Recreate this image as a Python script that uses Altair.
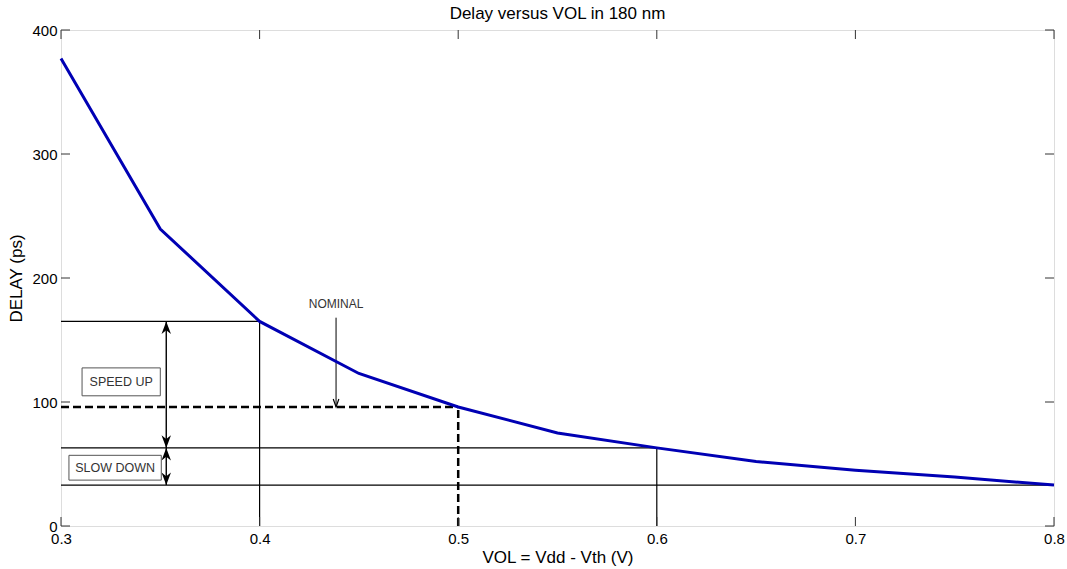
import altair as alt
import pandas as pd

# Curve data
vol = [0.30, 0.35, 0.40, 0.45, 0.50, 0.55, 0.60, 0.65, 0.70, 0.75, 0.80]
delay = [377, 239.5, 165, 123, 96, 75, 63, 52, 45, 39.5, 33]

# Reference solid lines (horizontal then vertical)
h_x1 = [0.3, 0.3, 0.3]
h_x2 = [0.4, 0.6, 0.8]
h_y = [165, 63, 33]
v_x = [0.4, 0.6]
v_y = [165, 63]

# Nominal dashed
nom_x = 0.5
nom_y = 96

# Double arrows
arr_x = 0.353
arr_y1 = [165, 63]
arr_y2 = [63, 33]

# Boxes
box_labels = ["SPEED UP", "SLOW DOWN"]
box_x1 = [0.3106, 0.304]
box_x2 = [0.35, 0.3505]
box_y1 = [105, 37]
box_y2 = [127.5, 57]

# Nominal annotation
nominal_text_x = 0.4385
nominal_text_y = 173
nominal_arrow_top = 168
nominal_arrow_tip = 96

xticks = [0.3, 0.4, 0.5, 0.6, 0.7, 0.8]
yticks = [0, 100, 200, 300, 400]

W, H = 993, 496
FONT = "Liberation Sans"

xs = alt.Scale(domain=[0.3, 0.8], nice=False, zero=False)
ys = alt.Scale(domain=[0, 400], nice=False)

xaxis = alt.Axis(values=xticks, format=".1f", ticks=False, domain=False, grid=False,
                 labelFontSize=15, labelColor="black", labelPadding=5, labelFont=FONT,
                 title="VOL = Vdd - Vth (V)", titleFontSize=17, titleFontWeight="normal",
                 titleColor="black", titleFont=FONT, titlePadding=3, labelFlush=False)
yaxis = alt.Axis(values=yticks, ticks=False, domain=False, grid=False,
                 labelFontSize=15, labelColor="black", labelPadding=4, labelFont=FONT,
                 title="DELAY (ps)", titleFontSize=17, titleFontWeight="normal",
                 titleColor="black", titleFont=FONT, titlePadding=6, labelFlush=False)

curve_df = pd.DataFrame({"x": vol, "y": delay})
base_curve = alt.Chart(curve_df).mark_line(color="#0000B4", strokeWidth=3).encode(
    x=alt.X("x:Q", scale=xs, axis=xaxis),
    y=alt.Y("y:Q", scale=ys, axis=yaxis),
)

hdf = pd.DataFrame({"x1": h_x1, "x2": h_x2, "y": h_y})
hlines = alt.Chart(hdf).mark_rule(color="black", strokeWidth=1.2).encode(
    x=alt.X("x1:Q", scale=xs), x2="x2:Q", y=alt.Y("y:Q", scale=ys))

vdf = pd.DataFrame({"x": v_x, "y": v_y, "y0": [0, 0]})
vlines = alt.Chart(vdf).mark_rule(color="black", strokeWidth=1.2).encode(
    x=alt.X("x:Q", scale=xs), y=alt.Y("y0:Q", scale=ys), y2="y:Q")

ndf = pd.DataFrame({"x1": [0.3], "x2": [nom_x], "y": [nom_y], "y0": [0]})
nom_h = alt.Chart(ndf).mark_rule(color="black", strokeWidth=2.5, strokeDash=[8, 4]).encode(
    x=alt.X("x1:Q", scale=xs), x2="x2:Q", y=alt.Y("y:Q", scale=ys))
nom_v = alt.Chart(ndf).mark_rule(color="black", strokeWidth=2.5, strokeDash=[8, 4]).encode(
    x=alt.X("x2:Q", scale=xs), y=alt.Y("y0:Q", scale=ys), y2="y:Q")

adf = pd.DataFrame({"x": [arr_x, arr_x], "y1": arr_y1, "y2": arr_y2})
arr_lines = alt.Chart(adf).mark_rule(color="black", strokeWidth=1.4).encode(
    x=alt.X("x:Q", scale=xs), y=alt.Y("y1:Q", scale=ys), y2="y2:Q")

UP = "M0,0L-0.9,2.4L0,1.7L0.9,2.4Z"
DOWN = "M0,0L-0.9,-2.4L0,-1.7L0.9,-2.4Z"
up_df = pd.DataFrame({"x": [arr_x, arr_x], "y": arr_y1})
down_df = pd.DataFrame({"x": [arr_x, arr_x], "y": arr_y2})
heads_up = alt.Chart(up_df).mark_point(shape=UP, filled=True, color="black", size=110, opacity=1).encode(
    x=alt.X("x:Q", scale=xs), y=alt.Y("y:Q", scale=ys))
heads_down = alt.Chart(down_df).mark_point(shape=DOWN, filled=True, color="black", size=110, opacity=1).encode(
    x=alt.X("x:Q", scale=xs), y=alt.Y("y:Q", scale=ys))

bdf = pd.DataFrame({"label": box_labels, "x1": box_x1, "x2": box_x2, "y1": box_y1, "y2": box_y2})
bdf["xm"] = (bdf["x1"] + bdf["x2"]) / 2
bdf["ym"] = (bdf["y1"] + bdf["y2"]) / 2
boxes = alt.Chart(bdf).mark_rect(fill="white", stroke="#555555", strokeWidth=1).encode(
    x=alt.X("x1:Q", scale=xs), x2="x2:Q", y=alt.Y("y1:Q", scale=ys), y2="y2:Q")
box_text = alt.Chart(bdf).mark_text(fontSize=12.5, color="#333333", font=FONT, align="center",
                                    baseline="middle").encode(
    x=alt.X("xm:Q", scale=xs), y=alt.Y("ym:Q", scale=ys), text="label:N")

nadf = pd.DataFrame({"x": [nominal_text_x], "y": [nominal_text_y], "t": ["NOMINAL"],
                     "ya": [nominal_arrow_top], "yb": [nominal_arrow_tip]})
nom_text = alt.Chart(nadf).mark_text(fontSize=12, color="#333333", font=FONT, align="center", baseline="bottom").encode(
    x=alt.X("x:Q", scale=xs), y=alt.Y("y:Q", scale=ys), text="t:N")
nom_arrow = alt.Chart(nadf).mark_rule(color="black", strokeWidth=1).encode(
    x=alt.X("x:Q", scale=xs), y=alt.Y("ya:Q", scale=ys), y2="yb:Q")
nom_head = alt.Chart(nadf).mark_point(shape="M-0.7,-2L0,0L0.7,-2", filled=False, color="black",
                                      size=64, strokeWidth=1.2, opacity=1).encode(
    x=alt.X("x:Q", scale=xs), y=alt.Y("yb:Q", scale=ys))

# Inward ticks (mirrored)
xt_df = pd.DataFrame({"x": xticks})
yt_df = pd.DataFrame({"y": yticks})
TL = 9
xt_bottom = alt.Chart(xt_df).mark_rule(color="#333333", strokeWidth=1).encode(
    x=alt.X("x:Q", scale=xs), y=alt.value(H), y2=alt.value(H - TL))
xt_top = alt.Chart(xt_df).mark_rule(color="#333333", strokeWidth=1).encode(
    x=alt.X("x:Q", scale=xs), y=alt.value(0), y2=alt.value(TL))
yt_left = alt.Chart(yt_df).mark_rule(color="#333333", strokeWidth=1).encode(
    y=alt.Y("y:Q", scale=ys), x=alt.value(0), x2=alt.value(TL))
yt_right = alt.Chart(yt_df).mark_rule(color="#333333", strokeWidth=1).encode(
    y=alt.Y("y:Q", scale=ys), x=alt.value(W), x2=alt.value(W - TL))

chart = alt.layer(
    hlines, vlines, nom_h, nom_v, arr_lines, heads_up, heads_down,
    boxes, box_text, nom_arrow, nom_head, nom_text,
    xt_bottom, xt_top, yt_left, yt_right, base_curve,
).properties(
    width=W, height=H,
    title=alt.TitleParams("Delay versus VOL in 180 nm", fontSize=17, fontWeight="normal",
                          font=FONT, color="black", offset=0),
    autosize=alt.AutoSizeParams(type="none"),
    padding={"left": 61, "top": 30, "right": 13, "bottom": 43},
).configure_view(stroke="#333333", strokeWidth=1).configure(background="white")

chart.save("out.html", embed_options={"renderer": "svg", "actions": False})
